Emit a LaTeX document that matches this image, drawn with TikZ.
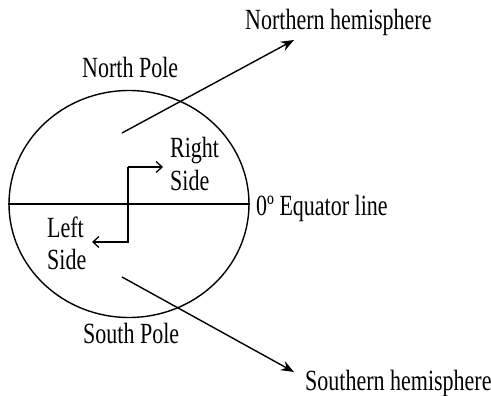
\documentclass[tikz,border=0pt]{standalone}
\usepackage{fontspec}
\setmainfont{Liberation Serif}
\usetikzlibrary{arrows.meta,shapes.geometric}
\newcommand{\vst}[1]{\scalebox{1}[1.33]{#1}}
\tikzset{
  lbl/.style={inner sep=0pt, anchor=base west, font=\fontsize{22}{24.5}\selectfont},
  ln/.style={line width=1.4pt},
  fillarrow/.style={ln, -{Stealth[length=13pt,width=10pt]}},
  openarrow/.style={ln, -{Straight Barb[length=6pt,width=11pt,line width=1.3pt]}},
}
\begin{document}
\begin{tikzpicture}[x=1pt,y=-1pt]
\useasboundingbox (0,0) rectangle (491,396);
% earth
\node[draw, ellipse, line width=1.4pt, minimum width=240pt, minimum height=227pt, inner sep=0pt] (earth) at (129,204) {};
\draw[ln] (earth.west) -- (earth.east);
% labels
\node[lbl] (np) at (82,78) {\vst{North Pole}};
\node[lbl] (sp) at (83,343) {\vst{South Pole}};
\node[lbl] (nh) at (245,30) {\vst{Northern hemisphere}};
\node[lbl] (sh) at (305,390) {\vst{Southern hemisphere}};
\node[lbl] (eq) at (256,215) {\vst{0º Equator line}};
\node[lbl] (rs) at (170,158) {\vst{\begin{tabular}[t]{@{}l@{}}Right\\Side\end{tabular}}};
\node[lbl] (ls) at (47,237) {\vst{\begin{tabular}[t]{@{}l@{}}Left\\Side\end{tabular}}};
% arrows to hemispheres
\coordinate (n0) at (122,133);
\coordinate (n1) at (294,40);
\coordinate (s0) at (122,277);
\coordinate (s1) at (294,372);
\draw[fillarrow] (n0) -- (n1);
\draw[fillarrow] (s0) -- (s1);
% rotation arrow
\coordinate (r1) at (163,167);
\coordinate (l1) at (92,242);
\draw[openarrow] (128,167) -- (r1);
\draw[openarrow] (128,167) -- (128,242) -- (l1);
\end{tikzpicture}
\end{document}
